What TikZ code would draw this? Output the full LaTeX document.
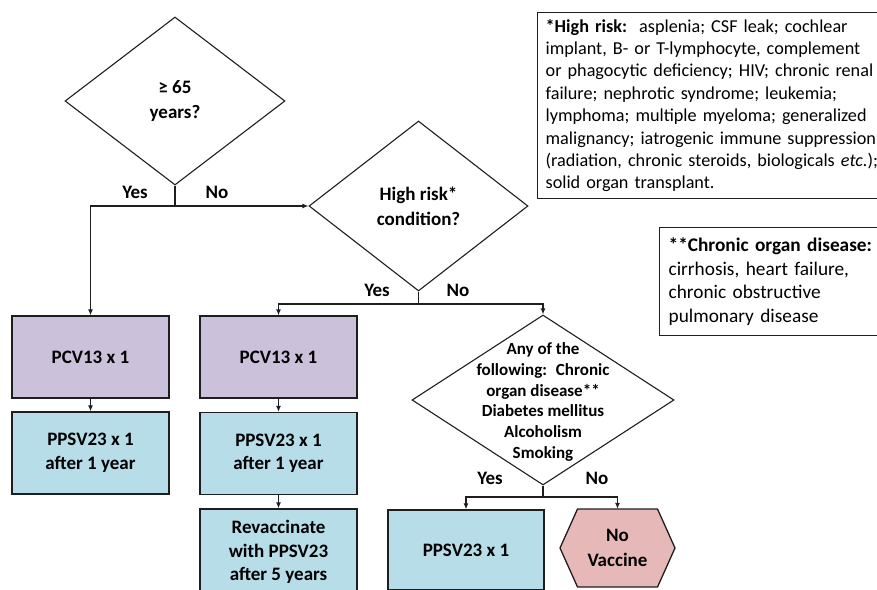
\documentclass[tikz,border=0pt]{standalone}
\usepackage{fontspec}
\setmainfont{Carlito}
\usetikzlibrary{shapes.geometric,arrows.meta}
\definecolor{pcv}{RGB}{204,193,218}
\definecolor{ppsv}{RGB}{183,221,232}
\definecolor{novac}{RGB}{230,185,184}
\definecolor{ln}{RGB}{30,30,30}
\tikzset{
  boxs/.style={draw=ln, line width=1.3pt, minimum width=157pt, minimum height=82pt, inner sep=0pt, align=center, font=\bfseries\fontsize{19}{23.5}\selectfont},
  dia/.style={draw=ln, line width=1.1pt, diamond, inner sep=0pt},
  dtext/.style={align=center, font=\bfseries\fontsize{19}{25}\selectfont},
  lbl/.style={font=\bfseries\fontsize{19}{23}\selectfont, inner sep=0pt},
  arr/.style={-{Latex[length=6pt,width=5pt]}, draw=ln, line width=1.1pt},
  con/.style={draw=ln, line width=1.1pt},
  legend/.style={draw=ln, line width=1.3pt, anchor=north west, align=left, inner ysep=0pt}
}
\begin{document}
\begin{tikzpicture}[x=1pt,y=-1pt]
\useasboundingbox (0,0) rectangle (877,589);
\clip (0,0) rectangle (877,589);
% diamonds
\node[dia, minimum width=220pt, minimum height=168pt, label={[dtext]center:≥ 65\\years?}] (d1) at (175,101) {};
\node[dia, minimum width=219pt, minimum height=170pt, label={[dtext]center:High risk*\\condition?}] (d2) at (418.5,206) {};
\node[dia, minimum width=262pt, minimum height=170pt, label={[dtext,font=\bfseries\fontsize{17}{20.8}\selectfont,yshift=-2pt]center:Any of the\\following:~ Chronic\\organ disease**\\Diabetes mellitus\\Alcoholism\\Smoking}] (d3) at (543,400) {};
% boxes
\node[boxs, fill=pcv] (b1) at (90.5,357) {PCV13 x 1};
\node[boxs, fill=ppsv] (b2) at (90.5,453) {PPSV23 x 1\\after 1 year};
\node[boxs, fill=pcv] (b3) at (278.5,357) {PCV13 x 1};
\node[boxs, fill=ppsv] (b4) at (278.5,453.5) {PPSV23 x 1\\after 1 year};
\node[boxs, fill=ppsv, minimum height=86pt] (b5) at (278.5,552) {Revaccinate\\with PPSV23\\after 5 years};
\node[boxs, fill=ppsv, minimum width=156pt, minimum height=80pt] (b6) at (466,550) {PPSV23 x 1};
% hexagon
\coordinate (hxc) at (617.5,548);
\draw[draw=ln, line width=1.3pt, fill=novac] (hxc) ++(-57.5,0) -- ++(17.5,-39) -- ++(80,0) -- ++(17.5,39) -- ++(-17.5,39) -- ++(-80,0) -- cycle;
\node[minimum width=115pt, minimum height=78pt, inner sep=0pt, align=center, font=\bfseries\fontsize{19}{25}\selectfont] (hx) at (hxc) {No\\Vaccine};
% junctions
\coordinate (j1) at (175,206);
\coordinate (j2) at (418.5,304);
\coordinate (j3) at (543,497);
\draw[con] (d1.south) -- (j1);
\draw[arr] (j1) -| (b1.north);
\draw[arr] (j1) -- (d2.west);
\draw[con] (d2.south) -- (j2);
\draw[arr] (j2) -| (b3.north);
\draw[arr] (j2) -| (d3.north);
\draw[con] (d3.south) -- (j3);
\draw[arr] (j3) -| (b6.north);
\draw[arr] (j3) -| (hx.north);
\draw[arr] (b1) -- (b2);
\draw[arr] (b3) -- (b4);
\draw[arr] (b4) -- (b5);
% labels
\node[lbl] (y1) at (135,192) {Yes};
\node[lbl] (n1) at (217,192) {No};
\node[lbl] (y2) at (377,290) {Yes};
\node[lbl] (n2) at (458,290) {No};
\node[lbl] (y3) at (490,478) {Yes};
\node[lbl] (n3) at (597,478) {No};
% legends
\node[legend, text width=345pt, minimum height=186pt, inner xsep=8pt, font=\fontsize{18.2}{22.4}\selectfont] (lg1) at (537,12) {\textbf{*High risk:}\ \ asplenia; CSF leak; cochlear\\implant, B- or T-lymphocyte, complement\\or phagocytic deficiency; HIV; chronic renal\\failure; nephrotic syndrome; leukemia;\\lymphoma; multiple myeloma; generalized\\malignancy; iatrogenic immune suppression\\(radiation, chronic steroids, biologicals \textit{etc.});\\solid organ transplant.};
\node[legend, text width=240pt, minimum height=108pt, inner xsep=9pt, font=\fontsize{19.3}{23.7}\selectfont] (lg2) at (659,227) {\textbf{**Chronic organ disease:}\\cirrhosis, heart failure,\\chronic obstructive\\pulmonary disease};
\end{tikzpicture}
\end{document}
